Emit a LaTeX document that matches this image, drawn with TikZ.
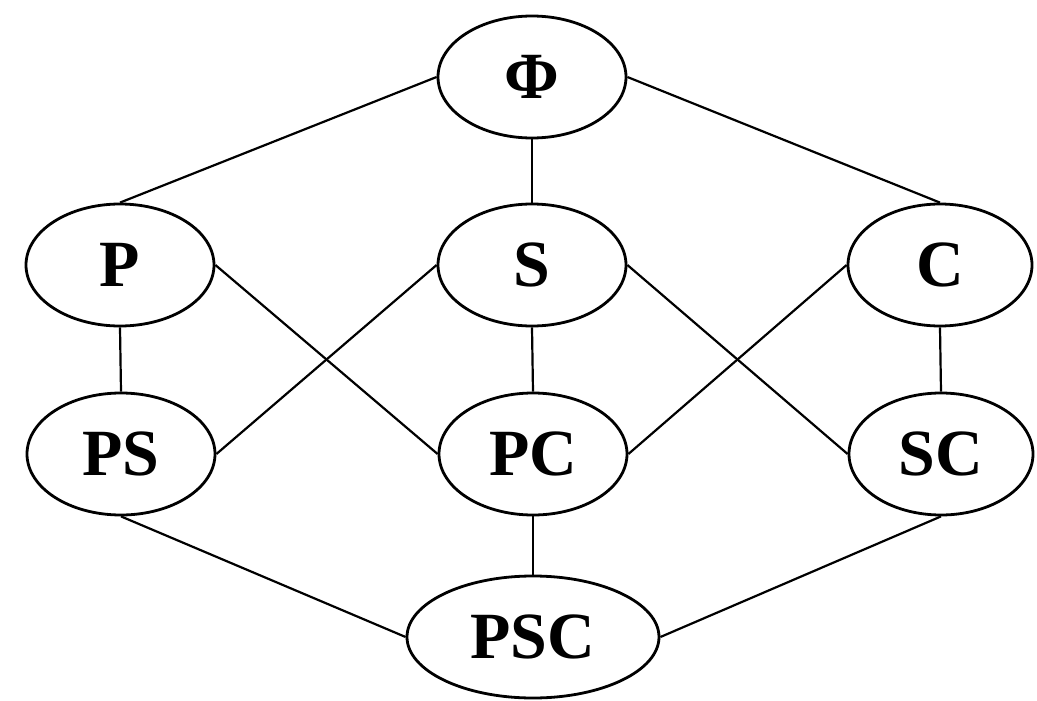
\documentclass[tikz,border=0pt]{standalone}
\usepackage{fontspec}
\setmainfont{Liberation Serif}
\usetikzlibrary{shapes.geometric}
\begin{document}
\begin{tikzpicture}[x=1pt,y=-1pt,
  setnode/.style={ellipse, draw, line width=2.8pt, inner sep=0pt,
    minimum width=188pt, minimum height=122pt,
    font=\fontsize{66}{70}\selectfont\bfseries},
  link/.style={line width=2.2pt}]
  \useasboundingbox (0,0) rectangle (1037,701);
  % lattice elements
  \node[setnode] (phi) at (532,77) {Φ};
  \node[setnode] (p)   at (120,265) {P};
  \node[setnode] (s)   at (532,265) {S};
  \node[setnode, minimum width=184pt] (c) at (940,265) {C};
  \node[setnode] (ps)  at (121,454) {PS};
  \node[setnode] (pc)  at (533,454) {PC};
  \node[setnode, minimum width=184pt] (sc) at (941,454) {SC};
  \node[setnode, minimum width=252pt] (psc) at (533,637) {PSC};
  % covering relations
  \draw[link] (phi.west) -- (p.north);
  \draw[link] (phi.south) -- (s.north);
  \draw[link] (phi.east) -- (c.north);
  \draw[link] (p.south) -- (ps.north);
  \draw[link] (p.east) -- (pc.west);
  \draw[link] (s.west) -- (ps.east);
  \draw[link] (s.south) -- (pc.north);
  \draw[link] (s.east) -- (sc.west);
  \draw[link] (c.west) -- (pc.east);
  \draw[link] (c.south) -- (sc.north);
  \draw[link] (ps.south) -- (psc.west);
  \draw[link] (pc.south) -- (psc.north);
  \draw[link] (sc.south) -- (psc.east);
\end{tikzpicture}
\end{document}
